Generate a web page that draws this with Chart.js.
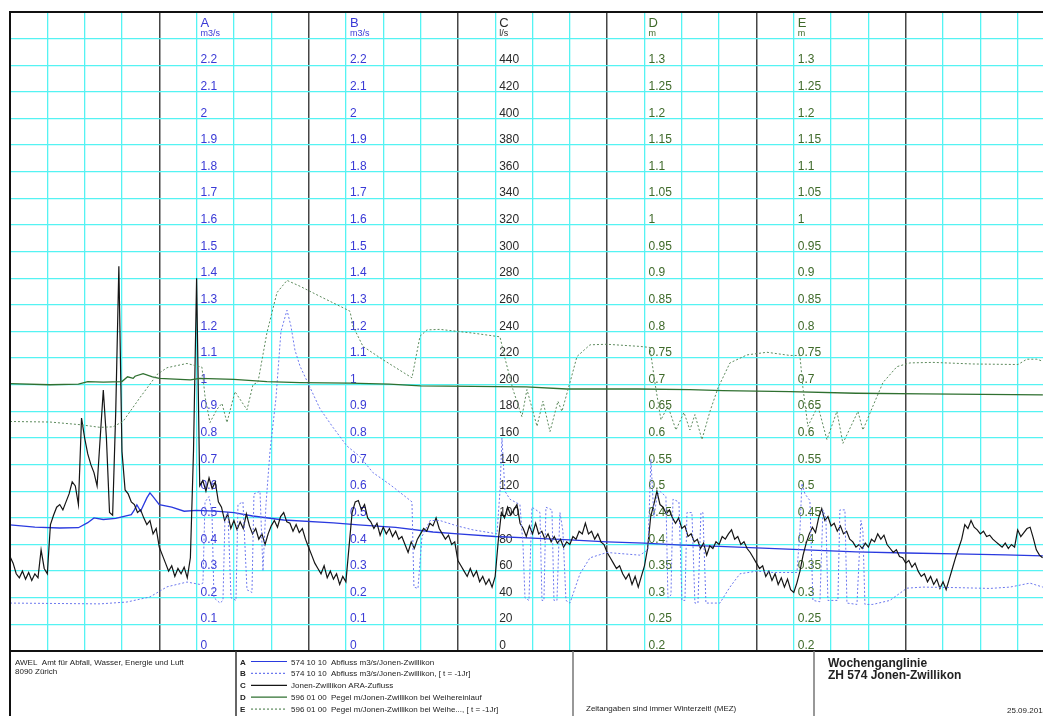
<!DOCTYPE html>
<html>
<head>
<meta charset="utf-8">
<script src="https://cdn.jsdelivr.net/npm/chart.js@4.4.0/dist/chart.umd.min.js"></script>
<style>
  html, body { margin: 0; padding: 0; background: #fff; overflow: hidden; }
  #wrap { width: 1043px; height: 716px; overflow: hidden; position: relative; }
  canvas { display: block; }
</style>
</head>
<body>
<div id="wrap"><canvas id="chart" width="1060" height="716"></canvas></div>
<script>
// ---- Data (time in hours since start of the week) ----

// C: ARA-Zufluss in l/s, one value every half hour
const cStepHours = 0.5;
const cValues = [
  71, 66, 58, 55, 60, 54, 59, 53, 58, 55, 76, 62, 58, 95, 102, 108, 110, 106, 112, 118, 127, 124, 110, 175,
  160, 148, 140, 134, 124, 160, 196, 160, 104, 102, 180, 289, 150, 121, 118, 112, 110, 104, 106, 100, 95, 98, 88, 92,
  78, 72, 66, 60, 64, 56, 62, 58, 63, 55, 70, 150, 280, 124, 128, 120, 130, 122, 127, 112, 108, 98, 103, 92,
  98, 91, 97, 92, 103, 94, 88, 92, 84, 88, 80, 88, 94, 98, 93, 101, 104, 97, 96, 90, 95, 89, 92, 84,
  78, 72, 66, 62, 58, 64, 55, 60, 54, 58, 50, 56, 52, 78, 104, 112, 113, 106, 110, 100, 97, 92, 96, 87,
  93, 88, 92, 86, 90, 84, 86, 80, 74, 82, 77, 84, 88, 92, 90, 96, 94, 100, 92, 88, 84, 87, 80, 82,
  68, 64, 60, 56, 62, 56, 60, 52, 56, 50, 54, 48, 56, 83, 104, 100, 108, 102, 106, 110, 96, 92, 86, 94,
  88, 96, 88, 90, 84, 88, 82, 86, 81, 84, 78, 82, 80, 86, 84, 90, 88, 96, 88, 90, 84, 88, 82, 80,
  74, 70, 66, 62, 64, 58, 54, 58, 50, 56, 48, 56, 64, 77, 101, 110, 120, 110, 108, 103, 106, 100, 96, 100,
  92, 94, 86, 88, 82, 84, 77, 81, 72, 79, 77, 82, 80, 86, 84, 88, 91, 84, 86, 80, 82, 77, 74, 70,
  66, 62, 64, 56, 60, 53, 58, 50, 55, 48, 54, 46, 44, 51, 60, 72, 81, 88, 93, 89, 100, 107, 98, 101,
  94, 96, 90, 94, 88, 90, 84, 82, 78, 80, 77, 81, 78, 84, 82, 88, 84, 87, 80, 77, 74, 76, 71, 70,
  66, 68, 63, 66, 60, 56, 58, 52, 56, 50, 54, 47, 52, 46, 54, 62, 70, 77, 84, 95, 92, 98, 93, 91,
  88, 90, 86, 87, 84, 82, 80, 78, 81, 77, 80, 78, 91, 86, 89, 92, 93, 85, 76, 72, 70
];

// A: Abfluss m3/s
const aHours = [0, 4, 8, 11, 12.5, 13.5, 15, 17, 18, 19.5, 20, 20.4, 21, 22, 22.5, 23, 24, 26, 28, 30, 33, 36, 39, 44,
  52, 56, 62, 68, 72, 78, 84, 90, 96, 102, 108, 114, 120, 128, 136, 144, 152, 160, 166.05];
const aValues = [0.474, 0.465, 0.462, 0.463, 0.482, 0.5, 0.494, 0.498, 0.504, 0.512, 0.53, 0.549, 0.525, 0.575, 0.594, 0.58,
  0.55, 0.54, 0.525, 0.528, 0.525, 0.52, 0.507, 0.492, 0.481, 0.474, 0.464, 0.447, 0.44, 0.43, 0.424, 0.417, 0.41, 0.405,
  0.398, 0.393, 0.387, 0.38, 0.372, 0.368, 0.365, 0.361, 0.357];

// B: Abfluss m3/s, one year earlier
const bHours = [0, 14.47, 18.81, 22.5, 25.24, 28.45, 30.54, 31.02, 31.35, 31.99, 32.47, 32.79, 33.76, 34.24, 34.56, 35.04,
  35.53, 36.33, 36.65, 37.45, 38.1, 38.9, 39.22, 40.19, 40.67, 41.15, 41.8, 42.76, 43.56, 44.53, 45.17, 45.81, 46.62,
  48.23, 49.83, 51.92, 54.17, 56.26, 58.35, 61.09, 63.82, 64.62, 64.94, 65.59, 66.23, 67.52, 69.12, 71.86, 74.43,
  78.29, 78.77, 79.09, 79.57, 80.38, 81.98, 82.47, 82.79, 83.43, 83.91, 85.2, 85.52, 85.84, 86.16, 87.13, 87.45,
  87.93, 88.41, 88.89, 89.38, 90.02, 91.63, 93.24, 95.97, 101.27, 102.56, 103.04, 103.52, 104.01, 104.49, 105.45,
  105.77, 106.26, 106.58, 107.54, 108.02, 108.51, 108.83, 109.63, 110.11, 110.6, 111.08, 111.4, 111.88, 114.13,
  115.74, 117.35, 120.08, 122.65, 126.51, 126.99, 127.31, 127.8, 128.6, 129.08, 130.21, 130.69, 131.17, 131.49,
  133.1, 133.42, 134.23, 134.55, 136.16, 136.8, 137.12, 137.44, 138.73, 141.46, 144.19, 146.76, 152.23, 157.54,
  160.75, 163.97, 166.05];
const bValues = [0.18, 0.177, 0.184, 0.203, 0.241, 0.259, 0.25, 0.255, 0.56, 0.58, 0.52, 0.2, 0.18, 0.19, 0.5, 0.52,
  0.2, 0.19, 0.55, 0.56, 0.23, 0.22, 0.59, 0.6, 0.3, 0.55, 0.75, 0.95, 1.2, 1.28, 1.22, 1.13, 1.07,
  0.99, 0.91, 0.84, 0.77, 0.73, 0.67, 0.625, 0.575, 0.56, 0.24, 0.235, 0.43, 0.49, 0.49, 0.47, 0.455,
  0.44, 0.6, 0.8, 0.6, 0.57, 0.55, 0.4, 0.2, 0.19, 0.54, 0.52, 0.19, 0.19, 0.54, 0.53, 0.19,
  0.19, 0.52, 0.45, 0.19, 0.18, 0.29, 0.35, 0.37, 0.36, 0.38, 0.72, 0.5, 0.58, 0.6, 0.58,
  0.2, 0.21, 0.57, 0.56, 0.19, 0.19, 0.52, 0.52, 0.18, 0.18, 0.52, 0.52, 0.18, 0.18,
  0.24, 0.29, 0.3, 0.295, 0.295, 0.45, 0.63, 0.59, 0.565, 0.19, 0.185, 0.53, 0.5, 0.19,
  0.19, 0.53, 0.53, 0.18, 0.175, 0.49, 0.45, 0.175, 0.175, 0.19, 0.236, 0.24, 0.238, 0.235,
  0.24, 0.255, 0.24];

// D: Pegel m bei Weihereinlauf
const dHours = [0, 6.4, 11, 12.5, 15, 18, 18.9, 19.8, 20.1, 21.4, 22.9, 24, 29, 30.5, 36, 41.3, 46.6, 54.6, 61, 66,
  74.4, 83, 89.5, 101, 109.3, 114.6, 125.4, 136, 146.8, 166.05];
const dValues = [0.702, 0.7, 0.701, 0.706, 0.705, 0.706, 0.715, 0.712, 0.716, 0.721, 0.715, 0.712, 0.709, 0.712, 0.71,
  0.706, 0.704, 0.703, 0.701, 0.698, 0.697, 0.696, 0.692, 0.692, 0.691, 0.689, 0.687, 0.684, 0.683, 0.681];

// E: Pegel m bei Weihereinlauf, one year earlier
const eHours = [0, 6.43, 11.25, 14.47, 16.56, 18.16, 20.9, 23.63, 25.24, 28.45, 30.06, 30.86, 31.35, 32.15, 33.28, 34.08,
  34.88, 36.17, 38.1, 39.06, 39.87, 41.31, 42.92, 44.53, 46.62, 49.83, 54.17, 54.66, 55.14, 56.75, 59.96, 64.62,
  65.91, 67.03, 69.12, 74.43, 78.77, 79.57, 80.86, 82.3, 83.11, 84.72, 85.68, 86.81, 88.09, 88.73, 90.02, 91.15,
  93.24, 95.97, 101.27, 102.88, 103.68, 104.65, 105.77, 107.06, 108.35, 109.31, 110.11, 111.24, 112.53, 113.82,
  115.74, 118.47, 121.69, 125.39, 126.99, 127.47, 128.27, 129.89, 131.33, 132.94, 133.9, 136.32, 137.12, 138.73,
  140.34, 142.59, 144.68, 148.37, 154.8, 162.04, 163.48, 165.09, 166.05];
const eValues = [0.631, 0.63, 0.625, 0.62, 0.621, 0.631, 0.676, 0.719, 0.732, 0.74, 0.735, 0.733, 0.678, 0.629, 0.654, 0.665,
  0.629, 0.687, 0.653, 0.7, 0.705, 0.798, 0.873, 0.896, 0.885, 0.866, 0.841, 0.838, 0.81, 0.772, 0.747, 0.713,
  0.791, 0.803, 0.804, 0.797, 0.79, 0.75, 0.691, 0.64, 0.691, 0.622, 0.669, 0.612, 0.669, 0.65, 0.704, 0.753,
  0.775, 0.776, 0.772, 0.77, 0.704, 0.634, 0.66, 0.615, 0.648, 0.615, 0.644, 0.597, 0.65, 0.694,
  0.741, 0.756, 0.761, 0.755, 0.755, 0.695, 0.622, 0.66, 0.597, 0.65, 0.59, 0.65, 0.615, 0.66,
  0.704, 0.734, 0.741, 0.742, 0.739, 0.738, 0.748, 0.748, 0.744];

// Tick labels for the in-plot axes
const flowTicks = [0, 0.1, 0.2, 0.3, 0.4, 0.5, 0.6, 0.7, 0.8, 0.9, 1, 1.1, 1.2, 1.3, 1.4, 1.5, 1.6, 1.7, 1.8, 1.9, 2, 2.1, 2.2];
const araTicks = [0, 20, 40, 60, 80, 100, 120, 140, 160, 180, 200, 220, 240, 260, 280, 300, 320, 340, 360, 380, 400, 420, 440];
const levelTicks = [0.2, 0.25, 0.3, 0.35, 0.4, 0.45, 0.5, 0.55, 0.6, 0.65, 0.7, 0.75, 0.8, 0.85, 0.9, 0.95, 1, 1.05, 1.1, 1.15, 1.2, 1.25, 1.3];

// ---- Styling ----
const FONT = '"Liberation Sans", Arial, sans-serif';
const CYAN = '#55f3f3';
const DAY_LINE = '#454545';
const BLUE_TXT = '#3a3ad6';
const BLACK_TXT = '#2a2a2a';
const GREEN_TXT = '#3f6a2a';

const COL_A = '#2a3adf';
const COL_B = '#6c78ee';
const COL_C = '#151515';
const COL_D = '#2f7030';
const COL_E = '#5d8a5d';

const toPoints = (hours, values) => values.map((v, i) => ({ x: hours[i], y: v }));
const cPoints = cValues.map((v, i) => ({ x: i * cStepHours, y: v }));

// Axis stacks drawn inside the plot (placed at quarter-day positions)
const axisStacks = [
  { scale: 'yA', atHour: 30,  head: 'A', unit: 'm3/s', ticks: flowTicks,  color: BLUE_TXT },
  { scale: 'yB', atHour: 54,  head: 'B', unit: 'm3/s', ticks: flowTicks,  color: BLUE_TXT },
  { scale: 'yC', atHour: 78,  head: 'C', unit: 'l/s',  ticks: araTicks,   color: BLACK_TXT },
  { scale: 'yD', atHour: 102, head: 'D', unit: 'm',    ticks: levelTicks, color: GREEN_TXT },
  { scale: 'yE', atHour: 126, head: 'E', unit: 'm',    ticks: levelTicks, color: GREEN_TXT }
];

const axisLabelPlugin = {
  id: 'axisLabels',
  beforeDatasetsDraw(chart) {
    const { ctx, scales, chartArea } = chart;
    ctx.save();
    ctx.textAlign = 'left';
    ctx.textBaseline = 'alphabetic';
    axisStacks.forEach(st => {
      const x = scales.x.getPixelForValue(st.atHour) + 4;
      const sc = scales[st.scale];
      ctx.fillStyle = st.color;
      ctx.font = '13px ' + FONT;
      ctx.fillText(st.head, x, chartArea.top + 14.5);
      ctx.font = '9px ' + FONT;
      ctx.fillText(st.unit, x, chartArea.top + 24);
      ctx.font = '12px ' + FONT;
      st.ticks.forEach(v => {
        ctx.fillText(String(v), x, sc.getPixelForValue(v) - 2);
      });
    });
    ctx.restore();
  }
};

const legendRows = [
  { key: 'A', text: '574 10 10  Abfluss m3/s/Jonen-Zwillikon', color: COL_A, dash: [] },
  { key: 'B', text: '574 10 10  Abfluss m3/s/Jonen-Zwillikon, [ t = -1Jr]', color: COL_B, dash: [2, 2] },
  { key: 'C', text: 'Jonen-Zwillikon ARA-Zufluss', color: COL_C, dash: [] },
  { key: 'D', text: '596 01 00  Pegel m/Jonen-Zwillikon bei Weihereinlauf', color: COL_D, dash: [] },
  { key: 'E', text: '596 01 00  Pegel m/Jonen-Zwillikon bei Weihe..., [ t = -1Jr]', color: COL_E, dash: [2, 2] }
];

const framePlugin = {
  id: 'frame',
  afterDraw(chart) {
    const { ctx, chartArea, width, height } = chart;
    const L = chartArea.left, T = chartArea.top, B = chartArea.bottom;
    ctx.save();
    // outer frame
    ctx.strokeStyle = '#111';
    ctx.lineWidth = 2;
    ctx.beginPath();
    ctx.moveTo(L, height); ctx.lineTo(L, T); ctx.lineTo(width, T);
    ctx.moveTo(L, B); ctx.lineTo(width, B);
    ctx.stroke();
    // footer separators
    ctx.lineWidth = 1.5;
    ctx.strokeStyle = '#333';
    ctx.beginPath(); ctx.moveTo(236, B); ctx.lineTo(236, height); ctx.stroke();
    ctx.strokeStyle = '#777';
    ctx.beginPath();
    ctx.moveTo(573, B); ctx.lineTo(573, height);
    ctx.moveTo(814, B); ctx.lineTo(814, height);
    ctx.stroke();

    // footer texts
    ctx.fillStyle = '#222';
    ctx.textAlign = 'left';
    ctx.textBaseline = 'alphabetic';
    ctx.font = '8px ' + FONT;
    ctx.fillText('AWEL  Amt f\u00fcr Abfall, Wasser, Energie und Luft', 15, 664.5);
    ctx.fillText('8090 Z\u00fcrich', 15, 674);

    legendRows.forEach((r, i) => {
      const yb = 664.5 + i * 11.9;
      ctx.fillStyle = '#222';
      ctx.font = 'bold 8px ' + FONT;
      ctx.fillText(r.key, 240, yb);
      ctx.font = '8px ' + FONT;
      ctx.fillText(r.text, 291, yb);
      ctx.strokeStyle = r.color;
      ctx.lineWidth = 1.2;
      ctx.setLineDash(r.dash);
      ctx.beginPath();
      ctx.moveTo(251, yb - 3); ctx.lineTo(287, yb - 3);
      ctx.stroke();
      ctx.setLineDash([]);
    });

    ctx.fillStyle = '#222';
    ctx.font = '8px ' + FONT;
    ctx.fillText('Zeitangaben sind immer Winterzeit! (MEZ)', 586, 711);
    ctx.font = 'bold 12px ' + FONT;
    ctx.fillText('Wochenganglinie', 828, 667);
    ctx.fillText('ZH 574 Jonen-Zwillikon', 828, 679);
    ctx.font = '8px ' + FONT;
    ctx.fillText('25.09.2013', 1007, 713);
    ctx.restore();
  }
};

const hiddenScale = (min, max) => ({ type: 'linear', display: false, min, max });

new Chart(document.getElementById('chart'), {
  type: 'line',
  data: {
    datasets: [
      { label: 'E', data: toPoints(eHours, eValues), yAxisID: 'yE', borderColor: COL_E, borderWidth: 1, borderDash: [2, 2] },
      { label: 'D', data: toPoints(dHours, dValues), yAxisID: 'yD', borderColor: COL_D, borderWidth: 1.3 },
      { label: 'B', data: toPoints(bHours, bValues), yAxisID: 'yB', borderColor: COL_B, borderWidth: 1, borderDash: [2, 2] },
      { label: 'C', data: cPoints, yAxisID: 'yC', borderColor: COL_C, borderWidth: 1.2 },
      { label: 'A', data: toPoints(aHours, aValues), yAxisID: 'yA', borderColor: COL_A, borderWidth: 1.3 }
    ]
  },
  options: {
    responsive: false,
    devicePixelRatio: 1,
    animation: false,
    parsing: true,
    elements: { point: { radius: 0 }, line: { tension: 0, fill: false } },
    layout: { padding: { left: 10, top: 12, right: 5, bottom: 65 } },
    plugins: { legend: { display: false }, tooltip: { enabled: false } },
    scales: {
      x: {
        type: 'linear', position: 'bottom', min: 0, max: 168,
        ticks: { display: false, stepSize: 6, maxTicksLimit: 1000 },
        grid: {
          drawTicks: false,
          color: c => (c.tick && c.tick.value % 24 === 0) ? DAY_LINE : CYAN,
          lineWidth: c => (c.tick && c.tick.value % 24 === 0) ? 1.5 : 1.3
        },
        border: { display: false }
      },
      yC: {
        type: 'linear', position: 'left', min: 0, max: 480,
        ticks: { display: false, stepSize: 20, maxTicksLimit: 1000 },
        grid: { drawTicks: false, color: CYAN, lineWidth: 1.3 },
        border: { display: false }
      },
      yA: hiddenScale(0, 2.4),
      yB: hiddenScale(0, 2.4),
      yD: hiddenScale(0.2, 1.4),
      yE: hiddenScale(0.2, 1.4)
    }
  },
  plugins: [axisLabelPlugin, framePlugin]
});
</script>
</body>
</html>
